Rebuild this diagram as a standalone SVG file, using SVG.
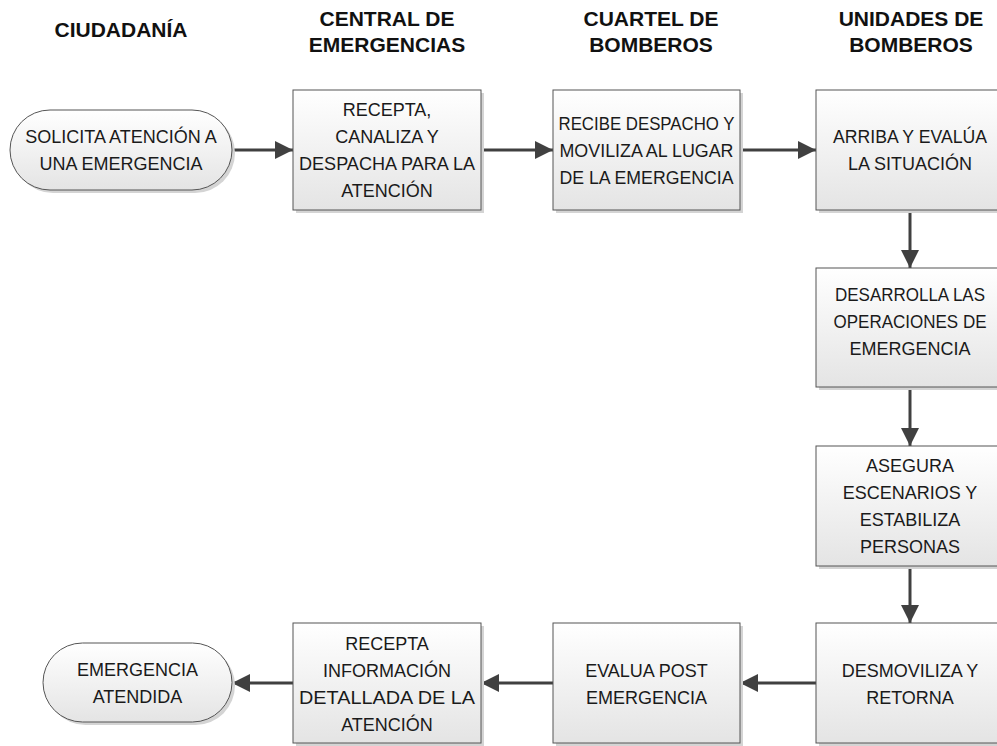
<svg xmlns="http://www.w3.org/2000/svg" width="997" height="746" viewBox="0 0 997 746">
<style>
.hdr{font-family:"Liberation Sans",Arial,sans-serif;font-weight:bold;font-size:21px;fill:#111;text-anchor:middle}
.lbl{font-family:"Liberation Sans",Arial,sans-serif;font-size:18px;fill:#1a1a1a;text-anchor:middle}
.shape{fill:url(#g);stroke:#555;stroke-width:1}
.shadow{fill:#d4d4d4}
.conn{stroke:#404040;stroke-width:3;fill:none}
</style>
<defs>
<linearGradient id="g" x1="0" y1="0" x2="0" y2="1">
<stop offset="0" stop-color="#ffffff"/>
<stop offset="1" stop-color="#e4e4e4"/>
</linearGradient>
<marker id="ah" markerWidth="6" markerHeight="6" refX="6" refY="3" orient="auto" markerUnits="strokeWidth">
<path d="M0,0 L6,3 L0,6 Z" fill="#404040"/>
</marker>
</defs>
<rect width="997" height="746" fill="#fff"/>
<g id="headers">
<text class="hdr" x="121" y="37">CIUDADANÍA</text>
<text class="hdr" x="387" y="26">CENTRAL DE</text>
<text class="hdr" x="387" y="52">EMERGENCIAS</text>
<text class="hdr" x="651" y="26">CUARTEL DE</text>
<text class="hdr" x="651" y="52">BOMBEROS</text>
<text class="hdr" x="911" y="26">UNIDADES DE</text>
<text class="hdr" x="911" y="52">BOMBEROS</text>
</g>
<g id="connectors">
<line class="conn" x1="232" y1="150" x2="293" y2="150" marker-end="url(#ah)"/>
<line class="conn" x1="481" y1="150" x2="553" y2="150" marker-end="url(#ah)"/>
<line class="conn" x1="740" y1="150" x2="816" y2="150" marker-end="url(#ah)"/>
<line class="conn" x1="910" y1="210" x2="910" y2="268" marker-end="url(#ah)"/>
<line class="conn" x1="910" y1="387" x2="910" y2="446" marker-end="url(#ah)"/>
<line class="conn" x1="910" y1="566" x2="910" y2="623" marker-end="url(#ah)"/>
<line class="conn" x1="816" y1="683" x2="740" y2="683" marker-end="url(#ah)"/>
<line class="conn" x1="553" y1="683" x2="481" y2="683" marker-end="url(#ah)"/>
<line class="conn" x1="293" y1="683" x2="232" y2="683" marker-end="url(#ah)"/>
</g>
<g id="n1">
<rect class="shadow" x="13" y="113" width="222" height="80" rx="40"/>
<rect class="shape" x="10" y="110" width="222" height="80" rx="40"/>
<text class="lbl" x="121" y="143">SOLICITA ATENCIÓN A</text>
<text class="lbl" x="121" y="170">UNA EMERGENCIA</text>
</g>
<g id="n2">
<rect class="shadow" x="296" y="93" width="188" height="120"/>
<rect class="shape" x="293" y="90" width="188" height="120"/>
<text class="lbl" x="387" y="116">RECEPTA,</text>
<text class="lbl" x="387" y="143">CANALIZA Y</text>
<text class="lbl" x="387" y="170" textLength="176" lengthAdjust="spacingAndGlyphs">DESPACHA  PARA LA</text>
<text class="lbl" x="387" y="197">ATENCIÓN</text>
</g>
<g id="n3">
<rect class="shadow" x="556" y="93" width="187" height="120"/>
<rect class="shape" x="553" y="90" width="187" height="120"/>
<text class="lbl" x="646.5" y="130" textLength="176" lengthAdjust="spacingAndGlyphs">RECIBE DESPACHO Y</text>
<text class="lbl" x="646.5" y="157" textLength="174" lengthAdjust="spacingAndGlyphs">MOVILIZA AL LUGAR</text>
<text class="lbl" x="646.5" y="184" textLength="174" lengthAdjust="spacingAndGlyphs">DE LA EMERGENCIA</text>
</g>
<g id="n4">
<rect class="shadow" x="819" y="93" width="188" height="120"/>
<rect class="shape" x="816" y="90" width="188" height="120"/>
<text class="lbl" x="910" y="143" textLength="154" lengthAdjust="spacingAndGlyphs">ARRIBA Y EVALÚA</text>
<text class="lbl" x="910" y="170">LA SITUACIÓN</text>
</g>
<g id="n5">
<rect class="shadow" x="819" y="271" width="188" height="119"/>
<rect class="shape" x="816" y="268" width="188" height="119"/>
<text class="lbl" x="910" y="301" textLength="150" lengthAdjust="spacingAndGlyphs">DESARROLLA LAS</text>
<text class="lbl" x="910" y="328" textLength="153" lengthAdjust="spacingAndGlyphs">OPERACIONES DE</text>
<text class="lbl" x="910" y="355">EMERGENCIA</text>
</g>
<g id="n6">
<rect class="shadow" x="819" y="449" width="188" height="120"/>
<rect class="shape" x="816" y="446" width="188" height="120"/>
<text class="lbl" x="910" y="472">ASEGURA</text>
<text class="lbl" x="910" y="499">ESCENARIOS Y</text>
<text class="lbl" x="910" y="526">ESTABILIZA</text>
<text class="lbl" x="910" y="553">PERSONAS</text>
</g>
<g id="n7">
<rect class="shadow" x="819" y="626" width="188" height="120"/>
<rect class="shape" x="816" y="623" width="188" height="120"/>
<text class="lbl" x="910" y="677">DESMOVILIZA Y</text>
<text class="lbl" x="910" y="704">RETORNA</text>
</g>
<g id="n8">
<rect class="shadow" x="556" y="626" width="187" height="120"/>
<rect class="shape" x="553" y="623" width="187" height="120"/>
<text class="lbl" x="646.5" y="677">EVALUA POST</text>
<text class="lbl" x="646.5" y="704">EMERGENCIA</text>
</g>
<g id="n9">
<rect class="shadow" x="296" y="626" width="188" height="120"/>
<rect class="shape" x="293" y="623" width="188" height="120"/>
<text class="lbl" x="387" y="650">RECEPTA</text>
<text class="lbl" x="387" y="677">INFORMACIÓN</text>
<text class="lbl" x="387" y="704" textLength="176" lengthAdjust="spacingAndGlyphs">DETALLADA DE LA</text>
<text class="lbl" x="387" y="731">ATENCIÓN</text>
</g>
<g id="n10">
<rect class="shadow" x="46" y="646" width="189" height="79" rx="39.5"/>
<rect class="shape" x="43" y="643" width="189" height="79" rx="39.5"/>
<text class="lbl" x="137.5" y="676">EMERGENCIA</text>
<text class="lbl" x="137.5" y="703">ATENDIDA</text>
</g>
</svg>
